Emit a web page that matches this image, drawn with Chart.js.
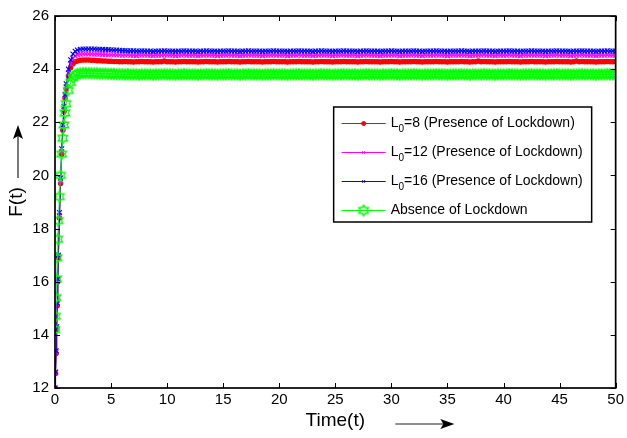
<!DOCTYPE html>
<html>
<head>
<meta charset="utf-8">
<script src="https://cdn.jsdelivr.net/npm/chart.js@4.4.1/dist/chart.umd.min.js"></script>
<style>
  html, body { margin: 0; padding: 0; background: #fff; }
  #plot { display: block; }
</style>
</head>
<body>
<canvas id="plot" width="627" height="438"></canvas>
<script>
// sample times (shared by all four runs)
const timeVals = [
  0,0.05,0.1,0.15,0.2,0.25,0.3,0.4,0.5,0.6,0.7,0.8,0.9,1,1.2,1.4,1.6,1.8,2,
  2.25,2.5,2.75,3,3.25,3.5,3.75,4,4.25,4.5,4.75,5,
  5.25,5.5,5.75,6,6.25,6.5,6.75,7,7.25,7.5,7.75,8,
  8.25,8.5,8.75,9,9.25,9.5,9.75,10,10.25,10.5,10.75,11,
  11.25,11.5,11.75,12,12.25,12.5,12.75,13,13.25,13.5,13.75,14,
  14.25,14.5,14.75,15,15.25,15.5,15.75,16,16.25,16.5,16.75,17,
  17.25,17.5,17.75,18,18.25,18.5,18.75,19,19.25,19.5,19.75,20,
  20.25,20.5,20.75,21,21.25,21.5,21.75,22,22.25,22.5,22.75,23,
  23.25,23.5,23.75,24,24.25,24.5,24.75,25,25.25,25.5,25.75,26,
  26.25,26.5,26.75,27,27.25,27.5,27.75,28,28.25,28.5,28.75,29,
  29.25,29.5,29.75,30,30.25,30.5,30.75,31,31.25,31.5,31.75,32,
  32.25,32.5,32.75,33,33.25,33.5,33.75,34,34.25,34.5,34.75,35,
  35.25,35.5,35.75,36,36.25,36.5,36.75,37,37.25,37.5,37.75,38,
  38.25,38.5,38.75,39,39.25,39.5,39.75,40,40.25,40.5,40.75,41,
  41.25,41.5,41.75,42,42.25,42.5,42.75,43,43.25,43.5,43.75,44,
  44.25,44.5,44.75,45,45.25,45.5,45.75,46,46.25,46.5,46.75,47,
  47.25,47.5,47.75,48,48.25,48.5,48.75,49,49.25,49.5,49.75,50
];

// F(t) with lockdown, L0 = 8
const fL8 = [
  12,12.55,13.3,14.2,15.1,16.0,16.9,18.4,19.7,20.8,21.7,22.4,22.9,23.25,23.75,24.05,24.2,24.28,24.31,
  24.33,24.34,24.34,24.34,24.33,24.33,24.32,24.32,24.31,24.31,24.30,24.30,
  24.29,24.29,24.28,24.28,24.29,24.28,24.28,24.27,24.28,24.28,24.29,24.28,
  24.28,24.28,24.27,24.28,24.28,24.28,24.31,24.28,24.28,24.28,24.27,24.28,
  24.28,24.29,24.28,24.28,24.28,24.28,24.27,24.28,24.28,24.29,24.28,24.28,
  24.28,24.27,24.28,24.28,24.28,24.29,24.28,24.28,24.28,24.27,24.28,24.28,
  24.29,24.28,24.28,24.28,24.28,24.27,24.28,24.28,24.28,24.29,24.28,24.28,
  24.28,24.28,24.27,24.28,24.28,24.28,24.29,24.28,24.28,24.28,24.28,24.27,
  24.28,24.28,24.29,24.28,24.28,24.28,24.27,24.28,24.28,24.28,24.29,24.28,
  24.28,24.28,24.28,24.27,24.28,24.28,24.29,24.28,24.28,24.28,24.28,24.27,
  24.28,24.28,24.28,24.29,24.28,24.28,24.27,24.28,24.28,24.28,24.28,24.29,
  24.28,24.28,24.27,24.28,24.28,24.28,24.28,24.29,24.28,24.28,24.28,24.27,
  24.28,24.28,24.28,24.28,24.29,24.28,24.28,24.27,24.28,24.28,24.31,24.28,
  24.29,24.28,24.28,24.28,24.27,24.28,24.28,24.28,24.28,24.29,24.28,24.28,
  24.28,24.27,24.28,24.28,24.28,24.29,24.28,24.28,24.28,24.28,24.27,24.28,
  24.28,24.28,24.29,24.28,24.28,24.28,24.28,24.27,24.28,24.31,24.28,24.29,
  24.28,24.28,24.28,24.28,24.27,24.28,24.28,24.28,24.29,24.28,24.28,24.28
];

// F(t) with lockdown, L0 = 12
const fL12 = [
  12,12.58,13.35,14.25,15.15,16.05,16.95,18.5,19.8,20.9,21.8,22.5,23.0,23.35,23.85,24.2,24.4,24.5,24.54,
  24.56,24.57,24.57,24.57,24.57,24.56,24.56,24.56,24.55,24.55,24.54,24.54,
  24.53,24.53,24.53,24.52,24.52,24.53,24.52,24.52,24.51,24.52,24.52,24.53,
  24.52,24.52,24.51,24.52,24.52,24.52,24.53,24.52,24.52,24.52,24.51,24.52,
  24.52,24.53,24.52,24.52,24.52,24.52,24.51,24.52,24.52,24.53,24.52,24.52,
  24.52,24.51,24.52,24.52,24.52,24.53,24.52,24.52,24.52,24.51,24.52,24.52,
  24.53,24.52,24.52,24.52,24.52,24.51,24.52,24.52,24.52,24.53,24.52,24.52,
  24.52,24.52,24.51,24.52,24.52,24.52,24.53,24.52,24.52,24.52,24.52,24.51,
  24.52,24.52,24.53,24.52,24.52,24.52,24.51,24.52,24.52,24.52,24.53,24.52,
  24.52,24.52,24.52,24.51,24.52,24.52,24.53,24.52,24.52,24.52,24.52,24.51,
  24.52,24.52,24.52,24.53,24.52,24.52,24.51,24.52,24.52,24.52,24.52,24.53,
  24.52,24.52,24.51,24.52,24.52,24.52,24.52,24.53,24.52,24.52,24.52,24.51,
  24.52,24.52,24.52,24.52,24.53,24.52,24.52,24.51,24.52,24.52,24.52,24.52,
  24.53,24.52,24.52,24.52,24.51,24.52,24.52,24.52,24.52,24.53,24.52,24.52,
  24.52,24.51,24.52,24.52,24.52,24.53,24.52,24.52,24.52,24.52,24.51,24.52,
  24.52,24.52,24.53,24.52,24.52,24.52,24.52,24.51,24.52,24.52,24.52,24.53,
  24.52,24.52,24.52,24.52,24.51,24.52,24.52,24.52,24.53,24.52,24.52,24.52
];

// F(t) with lockdown, L0 = 16
const fL16 = [
  12,12.6,13.4,14.3,15.2,16.1,17.0,18.6,19.9,21.0,21.9,22.6,23.05,23.45,24.0,24.35,24.57,24.67,24.72,
  24.75,24.76,24.76,24.76,24.76,24.76,24.75,24.75,24.75,24.74,24.74,24.73,
  24.72,24.72,24.71,24.70,24.70,24.69,24.69,24.69,24.68,24.68,24.69,24.68,
  24.68,24.68,24.67,24.68,24.68,24.68,24.69,24.68,24.68,24.68,24.67,24.68,
  24.68,24.69,24.68,24.68,24.68,24.68,24.67,24.68,24.68,24.69,24.68,24.68,
  24.68,24.67,24.68,24.68,24.68,24.69,24.68,24.68,24.68,24.67,24.68,24.68,
  24.69,24.68,24.68,24.68,24.68,24.67,24.68,24.68,24.68,24.69,24.68,24.68,
  24.68,24.68,24.67,24.68,24.68,24.68,24.69,24.68,24.68,24.68,24.68,24.67,
  24.68,24.68,24.69,24.68,24.68,24.68,24.67,24.68,24.68,24.68,24.69,24.68,
  24.68,24.68,24.68,24.67,24.68,24.68,24.69,24.68,24.68,24.68,24.68,24.67,
  24.68,24.68,24.68,24.69,24.68,24.68,24.67,24.68,24.68,24.68,24.68,24.69,
  24.68,24.68,24.67,24.68,24.68,24.68,24.68,24.69,24.68,24.68,24.68,24.67,
  24.68,24.68,24.68,24.68,24.69,24.68,24.68,24.67,24.68,24.68,24.68,24.68,
  24.69,24.68,24.68,24.68,24.67,24.68,24.68,24.68,24.68,24.69,24.68,24.68,
  24.68,24.67,24.68,24.68,24.68,24.69,24.68,24.68,24.68,24.68,24.67,24.68,
  24.68,24.68,24.69,24.68,24.68,24.68,24.68,24.67,24.68,24.68,24.68,24.69,
  24.68,24.68,24.68,24.68,24.67,24.68,24.68,24.68,24.69,24.68,24.68,24.68
];

// F(t) without lockdown
const fFree = [
  14.2,14.7,15.4,16.1,16.9,17.6,18.3,19.2,20.0,20.8,21.4,21.9,22.35,22.7,23.2,23.5,23.68,23.77,23.82,
  23.84,23.85,23.85,23.85,23.84,23.84,23.84,23.83,23.83,23.83,23.82,23.82,
  23.82,23.81,23.81,23.81,23.80,23.81,23.80,23.80,23.80,23.79,23.80,23.80,
  23.80,23.80,23.79,23.80,23.80,23.80,23.81,23.80,23.80,23.80,23.79,23.80,
  23.80,23.81,23.80,23.80,23.80,23.80,23.79,23.80,23.80,23.81,23.80,23.80,
  23.80,23.79,23.80,23.80,23.80,23.81,23.80,23.80,23.80,23.79,23.80,23.80,
  23.81,23.80,23.80,23.80,23.80,23.79,23.80,23.80,23.80,23.81,23.80,23.80,
  23.80,23.80,23.79,23.80,23.80,23.80,23.81,23.80,23.80,23.80,23.80,23.79,
  23.80,23.80,23.81,23.80,23.80,23.80,23.79,23.80,23.80,23.80,23.81,23.80,
  23.80,23.80,23.80,23.79,23.80,23.80,23.81,23.80,23.80,23.80,23.80,23.79,
  23.80,23.80,23.80,23.81,23.80,23.80,23.79,23.80,23.80,23.80,23.80,23.81,
  23.80,23.80,23.79,23.80,23.80,23.80,23.80,23.81,23.80,23.80,23.80,23.79,
  23.80,23.80,23.80,23.80,23.81,23.80,23.80,23.79,23.80,23.80,23.80,23.80,
  23.81,23.80,23.80,23.80,23.79,23.80,23.80,23.80,23.80,23.81,23.80,23.80,
  23.80,23.79,23.80,23.80,23.80,23.81,23.80,23.80,23.80,23.80,23.79,23.80,
  23.80,23.80,23.81,23.80,23.80,23.80,23.80,23.79,23.80,23.80,23.80,23.81,
  23.80,23.80,23.80,23.80,23.79,23.80,23.80,23.80,23.81,23.80,23.80,23.80
];

const xTicks = { min: 0, max: 50, step: 5 };
const yTicks = { min: 12, max: 26, step: 2 };
const seriesNames = [
  ["L", "0", "=8 (Presence of Lockdown)"],
  ["L", "0", "=12 (Presence of Lockdown)"],
  ["L", "0", "=16 (Presence of Lockdown)"],
  ["Absence of Lockdown", "", ""]
];
const seriesColors = ["#ff0000", "#ff00ff", "#0000ff", "#00ff00"];

const FONT = "'Liberation Sans', Arial, Helvetica, sans-serif";

// six-pointed star marker, drawn once into a small canvas
function hexagram(color, r) {
  const size = Math.ceil(2 * r + 3);
  const c = document.createElement("canvas");
  c.width = size; c.height = size;
  const g = c.getContext("2d");
  const cx = size / 2, cy = size / 2, ri = r / Math.sqrt(3);
  g.beginPath();
  for (let k = 0; k < 12; k++) {
    const a = -Math.PI / 2 + k * Math.PI / 6;
    const rr = k % 2 === 0 ? r : ri;
    const px = cx + rr * Math.cos(a), py = cy + rr * Math.sin(a);
    k === 0 ? g.moveTo(px, py) : g.lineTo(px, py);
  }
  g.closePath();
  g.strokeStyle = color;
  g.lineWidth = 1.4;
  g.stroke();
  return c;
}
const starGreen = hexagram(seriesColors[3], 5.4);

const markers = [
  { pointStyle: "circle", radius: 2.2 },
  { pointStyle: "crossRot", radius: 3.4 },
  { pointStyle: "crossRot", radius: 3.4 },
  { pointStyle: starGreen, radius: 5 }
];

const toPoints = (vals) => timeVals.map((t, i) => ({ x: t, y: vals[i] }));

const datasets = [fL8, fL12, fL16, fFree].map((vals, i) => ({
  data: toPoints(vals),
  borderColor: seriesColors[i],
  backgroundColor: seriesColors[i],
  borderWidth: 1,
  tension: 0,
  fill: false,
  pointStyle: markers[i].pointStyle,
  pointRadius: markers[i].radius,
  pointBorderWidth: 1.1,
  order: 3 - i   // later runs sit on top
}));

// box, inward ticks, axis titles with arrows, legend
const matlabFrame = {
  id: "matlabFrame",
  afterDraw(chart) {
    const { ctx, chartArea: a, scales } = chart;
    const xs = scales.x, ys = scales.y;
    ctx.save();

    ctx.strokeStyle = "#000";
    ctx.lineWidth = 1;
    ctx.beginPath();
    for (let v = xTicks.min; v <= xTicks.max; v += xTicks.step) {
      const px = Math.round(xs.getPixelForValue(v)) + 0.5;
      ctx.moveTo(px, a.bottom); ctx.lineTo(px, a.bottom - 5);
      ctx.moveTo(px, a.top); ctx.lineTo(px, a.top + 5);
    }
    for (let v = yTicks.min; v <= yTicks.max; v += yTicks.step) {
      const py = Math.round(ys.getPixelForValue(v)) + 0.5;
      ctx.moveTo(a.left, py); ctx.lineTo(a.left + 5, py);
      ctx.moveTo(a.right, py); ctx.lineTo(a.right - 5, py);
    }
    ctx.stroke();

    ctx.lineWidth = 1.7;
    ctx.strokeRect(a.left, a.top, a.right - a.left, a.bottom - a.top);

    // axis titles
    ctx.fillStyle = "#000";
    ctx.font = "19px " + FONT;
    ctx.textAlign = "center";
    ctx.textBaseline = "middle";
    const midX = (a.left + a.right) / 2, midY = (a.top + a.bottom) / 2;
    ctx.fillText("Time(t)", midX, a.bottom + 33);
    ctx.save();
    ctx.translate(17, midY);
    ctx.rotate(-Math.PI / 2);
    ctx.fillText("F(t)", 0, 0);
    ctx.restore();

    // arrows next to the titles
    ctx.strokeStyle = "#222";
    ctx.lineWidth = 1.2;
    ctx.beginPath();
    ctx.moveTo(midX + 60, a.bottom + 36); ctx.lineTo(midX + 110, a.bottom + 36);
    ctx.moveTo(18, midY - 24); ctx.lineTo(18, midY - 70);
    ctx.stroke();
    ctx.beginPath();
    ctx.moveTo(midX + 119, a.bottom + 36);
    ctx.lineTo(midX + 105, a.bottom + 31);
    ctx.lineTo(midX + 108, a.bottom + 36);
    ctx.lineTo(midX + 105, a.bottom + 41);
    ctx.closePath();
    ctx.moveTo(18, midY - 77);
    ctx.lineTo(13, midY - 63);
    ctx.lineTo(18, midY - 66);
    ctx.lineTo(23, midY - 63);
    ctx.closePath();
    ctx.fill();

    // legend
    const lx = a.right - 282, ly = a.top + 91, lw = 258, lh = 115;
    ctx.fillStyle = "#fff";
    ctx.fillRect(lx, ly, lw, lh);
    ctx.strokeStyle = "#000";
    ctx.lineWidth = 1.5;
    ctx.strokeRect(lx, ly, lw, lh);
    ctx.textAlign = "left";
    ctx.textBaseline = "middle";
    seriesNames.forEach((name, i) => {
      const y = ly + 16 + i * 29;
      const col = seriesColors[i];
      ctx.strokeStyle = col;
      ctx.fillStyle = col;
      ctx.lineWidth = 1;
      ctx.beginPath();
      ctx.moveTo(lx + 8, y + 0.5); ctx.lineTo(lx + 52, y + 0.5);
      ctx.stroke();
      const m = markers[i];
      Chart.helpers.drawPoint(ctx, {
        pointStyle: m.pointStyle,
        radius: i === 3 ? m.radius : Math.min(m.radius, 2),
        borderWidth: 1, rotation: 0
      }, lx + 30, y + 0.5);
      const [main, sub, rest] = name;
      let tx = lx + 57;
      ctx.fillStyle = "#000";
      ctx.font = "14px " + FONT;
      ctx.fillText(main, tx, y);
      tx += ctx.measureText(main).width;
      if (sub) {
        ctx.font = "10px " + FONT;
        ctx.fillText(sub, tx, y + 6);
        tx += ctx.measureText(sub).width;
        ctx.font = "14px " + FONT;
        ctx.fillText(rest, tx, y);
      }
    });
    ctx.restore();
  }
};

new Chart(document.getElementById("plot"), {
  type: "line",
  data: { datasets },
  options: {
    responsive: false,
    animation: false,
    devicePixelRatio: 1,
    layout: { padding: { top: 16, right: 10, left: 0, bottom: 0 } },
    plugins: { legend: { display: false }, tooltip: { enabled: false } },
    scales: {
      x: {
        type: "linear",
        min: xTicks.min, max: xTicks.max,
        grid: { display: false, drawTicks: false },
        border: { display: false },
        ticks: { stepSize: xTicks.step, color: "#000", padding: 3,
                 font: { family: FONT, size: 15 }, maxRotation: 0 },
        afterFit: (s) => { s.height = 50; }
      },
      y: {
        type: "linear",
        min: yTicks.min, max: yTicks.max,
        grid: { display: false, drawTicks: false },
        border: { display: false },
        ticks: { stepSize: yTicks.step, color: "#000", padding: 6,
                 font: { family: FONT, size: 15 } },
        afterFit: (s) => { s.width = 55; }
      }
    }
  },
  plugins: [matlabFrame]
});
</script>
</body>
</html>
